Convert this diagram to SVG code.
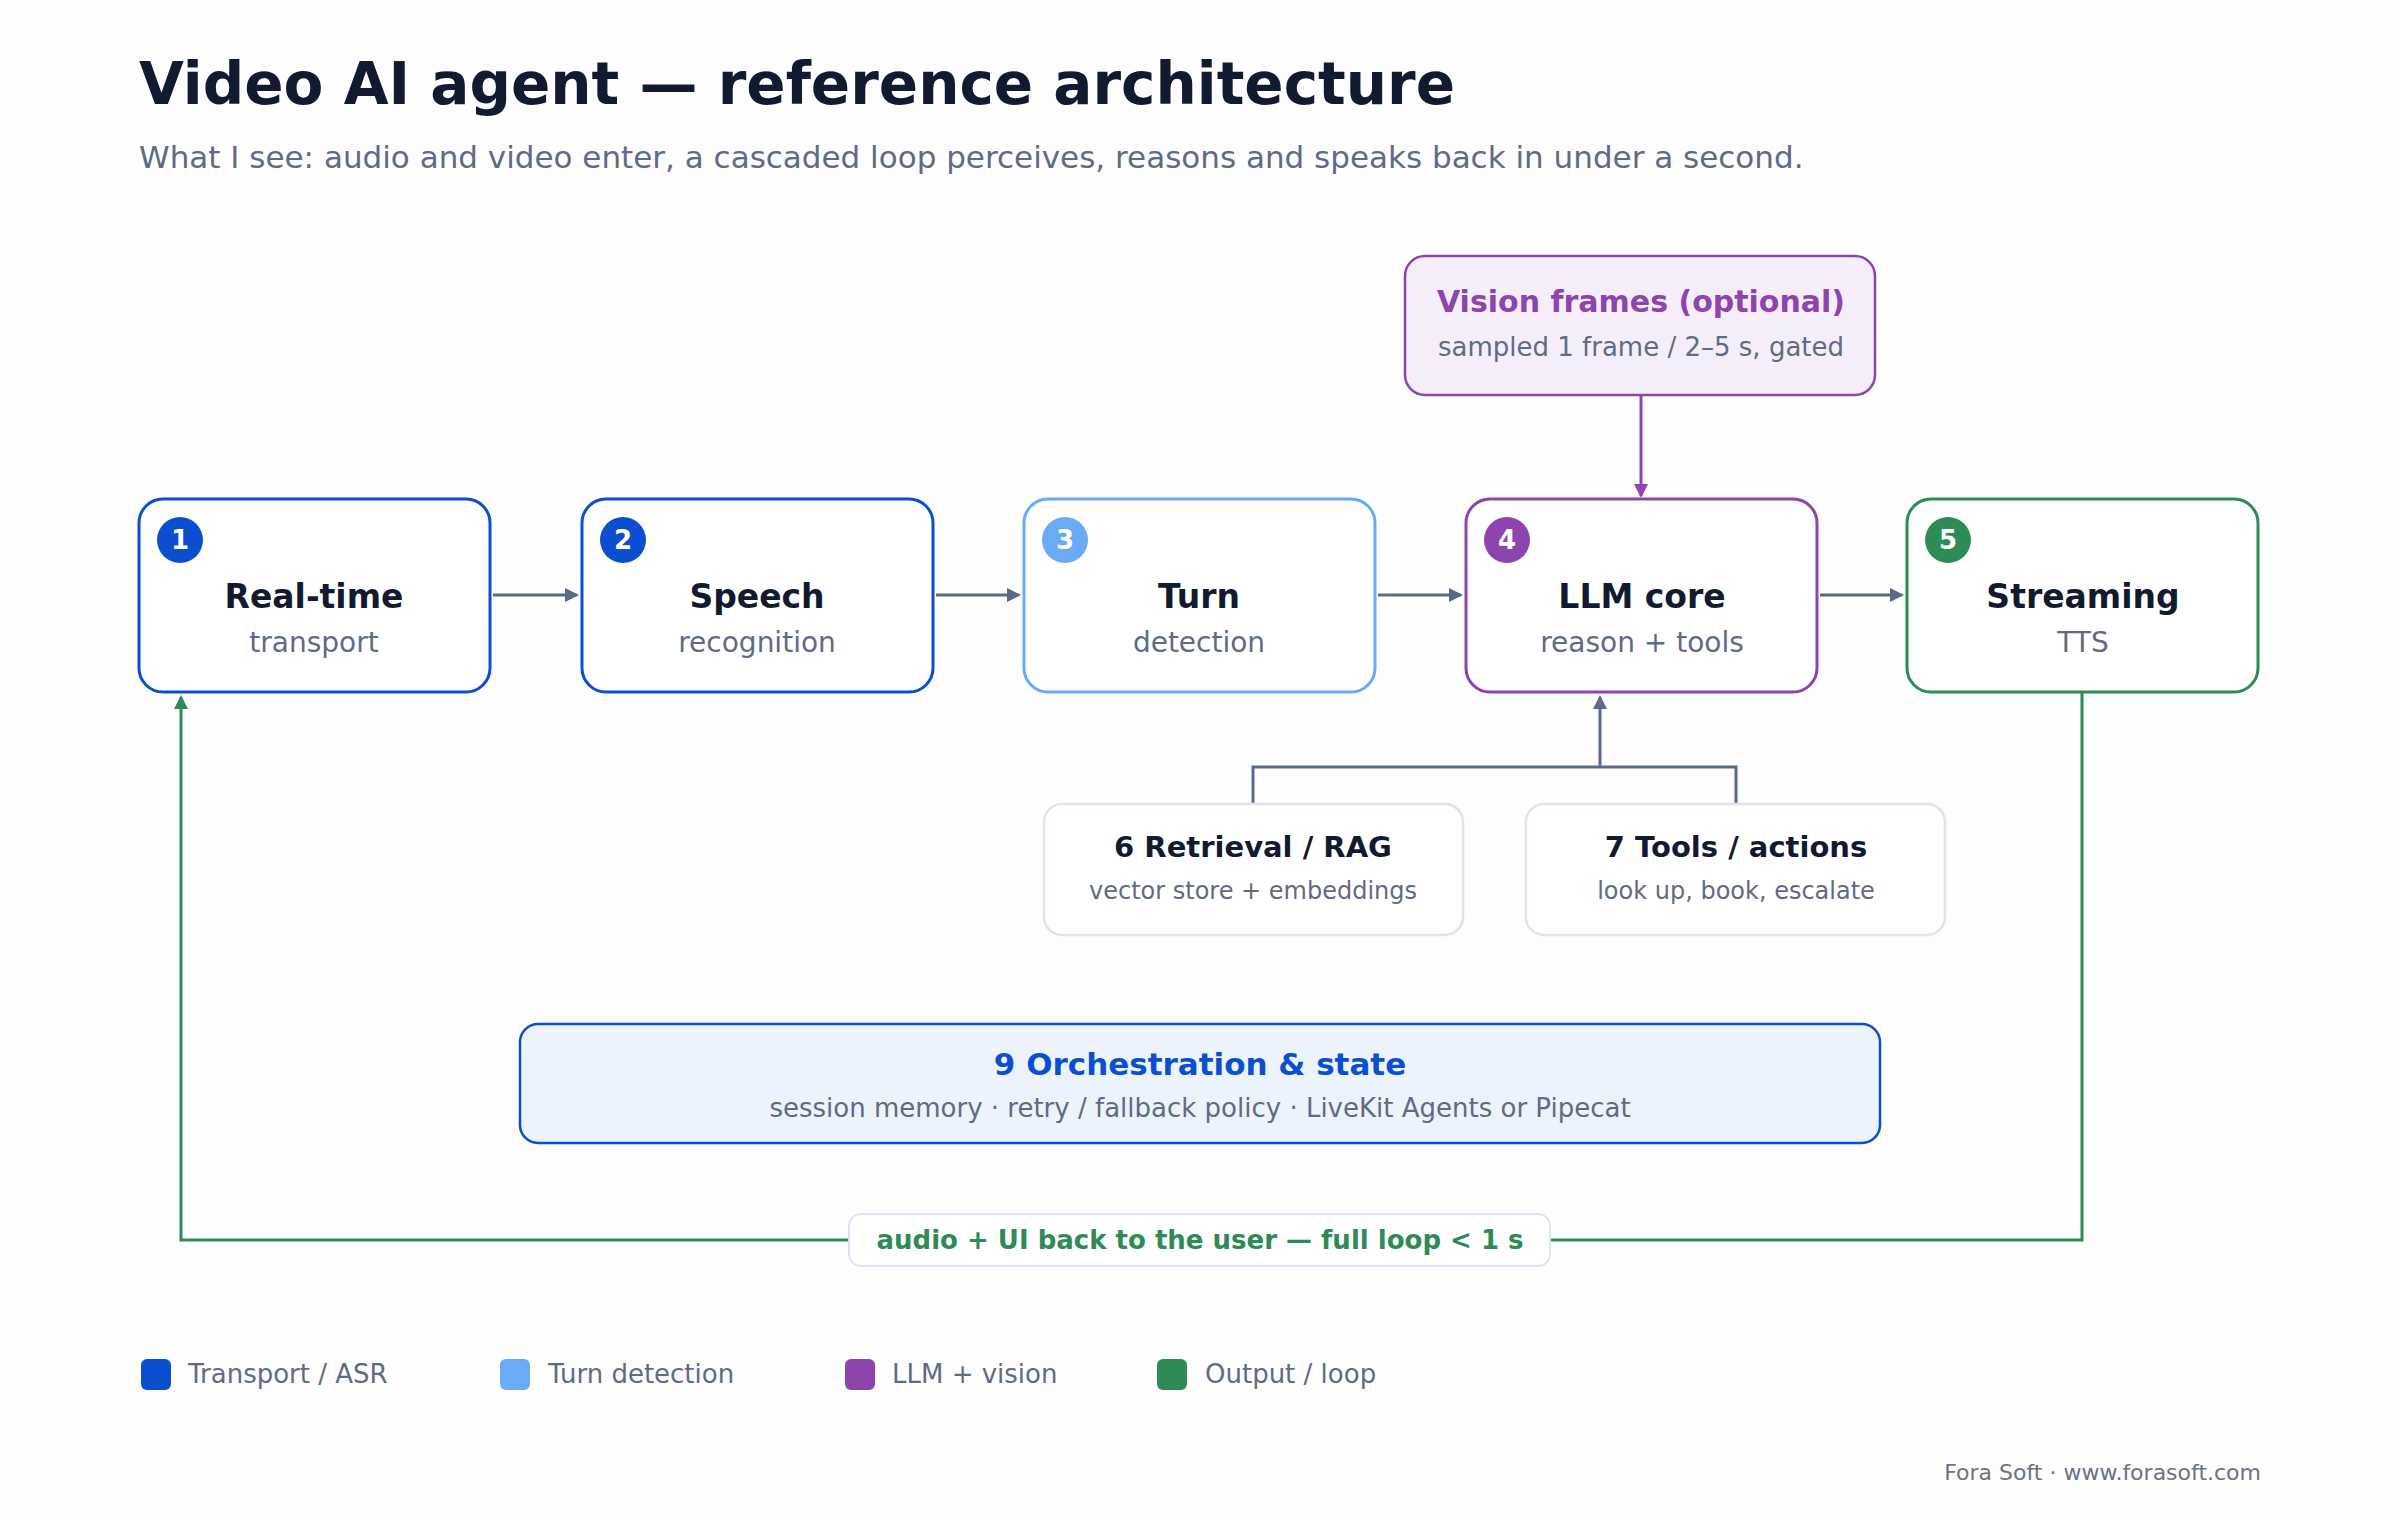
<svg xmlns="http://www.w3.org/2000/svg" width="2400" height="1520" viewBox="0 0 2400 1520">
<style>
text{font-family:"DejaVu Sans","Noto Sans",sans-serif}
.t{font-weight:bold;fill:#111a2e;font-size:33px;text-anchor:middle}
.s{fill:#5f6b85;font-size:28px;text-anchor:middle}
.n{fill:#fff;font-weight:bold;font-size:26px;text-anchor:middle}
.c{fill:none;stroke:#5a6a85;stroke-width:3}
.lg{fill:#5f6b85;font-size:26px}
</style>
<defs>
<marker id="ag" markerWidth="14" markerHeight="14" refX="12" refY="7" orient="auto" markerUnits="userSpaceOnUse" viewBox="0 0 14 14"><path d="M0,0L14,7L0,14z" fill="#5a6a85"/></marker>
<marker id="ap" markerWidth="14" markerHeight="14" refX="12" refY="7" orient="auto" markerUnits="userSpaceOnUse" viewBox="0 0 14 14"><path d="M0,0L14,7L0,14z" fill="#8e44ad"/></marker>
<marker id="agr" markerWidth="14" markerHeight="14" refX="12" refY="7" orient="auto" markerUnits="userSpaceOnUse" viewBox="0 0 14 14"><path d="M0,0L14,7L0,14z" fill="#2e8b57"/></marker>
</defs>
<rect width="2400" height="1520" fill="#fdfdfd"/>
<text x="139" y="104" font-size="58" font-weight="bold" fill="#111a2e">Video AI agent — reference architecture</text>
<text x="139" y="168" font-size="31" fill="#5f6b85">What I see: audio and video enter, a cascaded loop perceives, reasons and speaks back in under a second.</text>

<g id="connectors">
<path class="c" d="M493,595H577" marker-end="url(#ag)"/>
<path class="c" d="M936,595H1019" marker-end="url(#ag)"/>
<path class="c" d="M1378,595H1461" marker-end="url(#ag)"/>
<path class="c" d="M1820,595H1902" marker-end="url(#ag)"/>
<path d="M1641,395V496" fill="none" stroke="#8e44ad" stroke-width="3" marker-end="url(#ap)"/>
<path class="c" d="M1253,804V767H1736V804M1600,767V697" marker-end="url(#ag)"/>
<path d="M2082,692V1240H181V697" fill="none" stroke="#2e8b57" stroke-width="3" marker-end="url(#agr)"/>
</g>

<g id="n1"><rect x="139" y="499" width="351" height="193" rx="24" fill="#fff" stroke="#0b4fd0" stroke-width="3"/><circle cx="180" cy="540" r="23" fill="#0b4fd0"/><text class="n" x="180" y="549">1</text><text class="t" x="314" y="608">Real-time</text><text class="s" x="314" y="652">transport</text></g>
<g id="n2"><rect x="582" y="499" width="351" height="193" rx="24" fill="#fff" stroke="#0b4fd0" stroke-width="3"/><circle cx="623" cy="540" r="23" fill="#0b4fd0"/><text class="n" x="623" y="549">2</text><text class="t" x="757" y="608">Speech</text><text class="s" x="757" y="652">recognition</text></g>
<g id="n3"><rect x="1024" y="499" width="351" height="193" rx="24" fill="#fff" stroke="#6aaaf5" stroke-width="3"/><circle cx="1065" cy="540" r="23" fill="#6aaaf5"/><text class="n" x="1065" y="549">3</text><text class="t" x="1199" y="608">Turn</text><text class="s" x="1199" y="652">detection</text></g>
<g id="n4"><rect x="1466" y="499" width="351" height="193" rx="24" fill="#fff" stroke="#8e44ad" stroke-width="3"/><circle cx="1507" cy="540" r="23" fill="#8e44ad"/><text class="n" x="1507" y="549">4</text><text class="t" x="1642" y="608">LLM core</text><text class="s" x="1642" y="652">reason + tools</text></g>
<g id="n5"><rect x="1907" y="499" width="351" height="193" rx="24" fill="#fff" stroke="#2e8b57" stroke-width="3"/><circle cx="1948" cy="540" r="23" fill="#2e8b57"/><text class="n" x="1948" y="549">5</text><text class="t" x="2083" y="608">Streaming</text><text class="s" x="2083" y="652">TTS</text></g>

<g id="vision"><rect x="1405" y="256" width="470" height="139" rx="20" fill="#f5eefa" stroke="#8e44ad" stroke-width="2.5"/><text x="1641" y="312" font-size="30" font-weight="bold" fill="#8e44ad" text-anchor="middle">Vision frames (optional)</text><text class="s" x="1641" y="356" style="font-size:26px">sampled 1 frame / 2–5 s, gated</text></g>

<g id="n6"><rect x="1044" y="804" width="419" height="131" rx="18" fill="#fff" stroke="#dde3ef" stroke-width="2.5"/><text class="t" x="1253" y="857" style="font-size:29px">6 Retrieval / RAG</text><text class="s" x="1253" y="899" style="font-size:24px">vector store + embeddings</text></g>
<g id="n7"><rect x="1526" y="804" width="419" height="131" rx="18" fill="#fff" stroke="#dde3ef" stroke-width="2.5"/><text class="t" x="1736" y="857" style="font-size:29px">7 Tools / actions</text><text class="s" x="1736" y="899" style="font-size:24px">look up, book, escalate</text></g>

<g id="n9"><rect x="520" y="1024" width="1360" height="119" rx="18" fill="#ecf3fd" stroke="#0b4fd0" stroke-width="2.5"/><text x="1200" y="1075" font-size="31" font-weight="bold" fill="#0b4fd0" text-anchor="middle">9 Orchestration &amp; state</text><text class="s" x="1200" y="1117" style="font-size:26px">session memory · retry / fallback policy · LiveKit Agents or Pipecat</text></g>

<g id="loop-label"><rect x="849" y="1214" width="701" height="52" rx="12" fill="#fff" stroke="#dde3ef" stroke-width="2"/><text x="1200" y="1249" font-size="26" font-weight="bold" fill="#2e8b57" text-anchor="middle">audio + UI back to the user — full loop &lt; 1 s</text></g>

<g id="legend">
<rect x="141" y="1359" width="30" height="31" rx="6" fill="#0b4fd0"/><text class="lg" x="188" y="1383">Transport / ASR</text>
<rect x="500" y="1359" width="30" height="31" rx="6" fill="#6aaaf5"/><text class="lg" x="548" y="1383">Turn detection</text>
<rect x="845" y="1359" width="30" height="31" rx="6" fill="#8e44ad"/><text class="lg" x="892" y="1383">LLM + vision</text>
<rect x="1157" y="1359" width="30" height="31" rx="6" fill="#2e8b57"/><text class="lg" x="1205" y="1383">Output / loop</text>
</g>
<text x="2261" y="1480" font-size="22" fill="#6b7385" text-anchor="end">Fora Soft · www.forasoft.com</text>
</svg>
